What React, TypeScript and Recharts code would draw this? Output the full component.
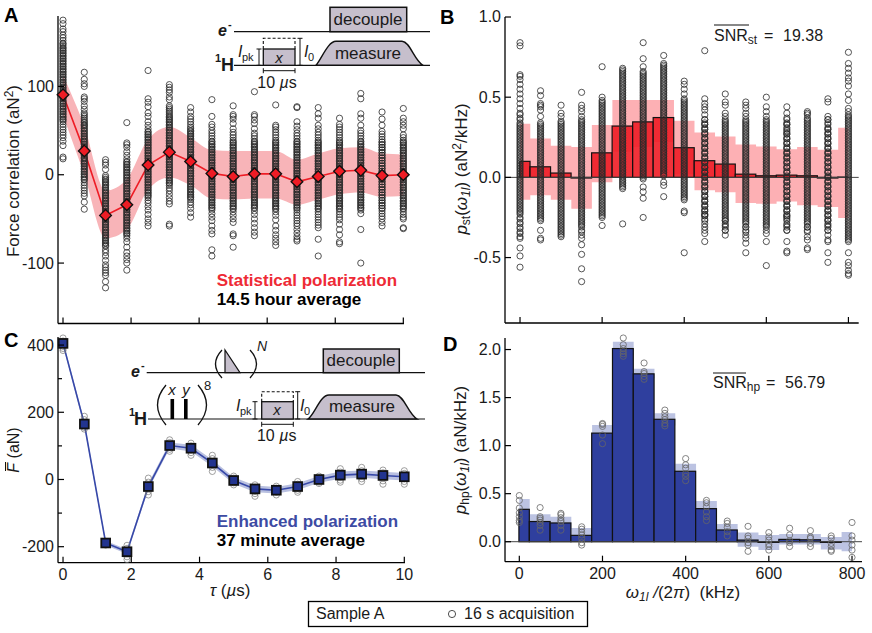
import React from 'react';
import { ComposedChart, XAxis, YAxis, Scatter, Line, Area, Bar, ReferenceLine } from 'recharts';

const FONT = '"Liberation Sans", Arial, sans-serif';
const INK = '#1a1a1a';

// ---------- Panel A ----------
const tau = [0, 0.625, 1.25, 1.875, 2.5, 3.125, 3.75, 4.375, 5, 5.625, 6.25, 6.875, 7.5, 8.125, 8.75, 9.375, 10];
const aMean = [90.5, 27, -46, -34, 11, 25.6, 15, 1.5, -2, 1, 1, -8, -2, 4, 5, -1, 0];
const aUpper = [113, 55, -18, -5, 40, 54, 42, 28, 27, 27, 27, 17, 24, 30, 31, 24, 23];
const aLower = [67, 0, -72, -62, -17, -3, -12, -27, -28, -27, -27, -34, -28, -22, -20, -25, -24];
const aShots = [
  [175,171,165,162,158,155,152,149,146,143,140,137,134,131,128,125,122,119,116,113,110,108,105,102,99,96,93,90,87,84,81,78,75,72,69,66,63,60,57,54,51,48,45,42,38,33,20,18],
  [116,108,103,100,88,86,83,78,74,70,66,62,59,56,53,50,47,44,41,38,35,32,29,26,23,20,18,15,12,9,6,3,0,-3,-6,-9,-12,-15,-18,-21,-24,-31,-39],
  [17,14,11,6,-1,-3,-6,-9,-12,-15,-18,-21,-24,-27,-30,-33,-36,-39,-42,-45,-48,-51,-54,-57,-60,-63,-66,-69,-72,-75,-78,-81,-85,-88,-92,-97,-102,-105,-108,-111,-114,-121,-128],
  [59,36,34,31,26,22,18,15,12,9,6,3,0,-3,-6,-9,-12,-15,-18,-21,-24,-27,-30,-33,-36,-39,-42,-45,-48,-51,-54,-57,-60,-63,-66,-69,-72,-76,-82,-88,-92,-96,-100,-108],
  [118,86,82,77,70,66,60,56,52,49,46,43,40,37,34,31,28,25,22,19,16,13,10,7,4,1,-2,-5,-8,-11,-14,-17,-20,-23,-26,-29,-32,-36,-40,-45,-50,-54,-58],
  [102,99,96,93,88,85,78,74,70,66,63,60,57,54,51,48,45,42,39,36,33,30,27,24,21,18,15,12,9,6,3,0,-3,-6,-9,-12,-15,-18,-22,-26,-30,-33,-56,-58],
  [76,71,66,63,60,57,54,50,47,44,41,38,35,32,29,26,23,20,17,14,11,8,5,2,-1,-4,-7,-10,-13,-16,-19,-22,-25,-28,-31,-34,-38,-43,-48],
  [85,66,57,54,50,47,44,41,38,35,32,29,26,23,20,17,14,11,8,5,2,-1,-4,-7,-10,-13,-16,-19,-22,-25,-28,-31,-34,-37,-40,-44,-48,-52,-58,-63,-67,-85,-92],
  [78,68,66,63,58,52,48,45,42,39,36,33,30,27,24,21,18,15,12,9,6,3,0,-3,-6,-9,-12,-15,-18,-21,-24,-27,-30,-33,-36,-39,-42,-46,-50,-54,-67,-69,-82],
  [94,68,66,62,58,52,47,44,41,38,35,32,29,26,23,20,17,14,11,8,5,2,-1,-4,-7,-10,-13,-16,-19,-22,-25,-28,-31,-34,-37,-41,-45,-50,-55,-60,-65,-69],
  [79,56,54,51,48,45,42,39,36,33,30,27,24,21,18,15,12,9,6,3,0,-3,-6,-9,-12,-15,-18,-21,-24,-27,-30,-33,-36,-39,-42,-46,-51,-58,-63,-68,-72,-76,-80],
  [77,76,60,55,51,47,44,41,38,35,32,29,26,23,20,17,14,11,8,5,2,-1,-4,-7,-10,-13,-16,-19,-22,-25,-28,-31,-34,-37,-40,-43,-46,-49,-52,-55,-58,-62,-66,-70,-73,-75],
  [76,69,64,56,52,48,45,42,39,36,33,30,27,24,21,18,15,12,9,6,3,0,-3,-6,-9,-12,-15,-18,-21,-24,-27,-30,-33,-36,-39,-42,-45,-48,-51,-54,-57,-60,-73,-92],
  [64,57,54,51,48,45,42,39,36,33,30,27,24,21,18,15,12,9,6,3,0,-3,-6,-9,-12,-15,-18,-21,-24,-27,-30,-33,-36,-39,-42,-45,-48,-51,-56,-62,-68,-76,-78],
  [92,86,69,64,56,50,47,44,41,38,35,32,29,26,23,20,17,14,11,8,5,2,-1,-4,-7,-10,-13,-16,-19,-22,-25,-28,-31,-34,-37,-40,-44,-62,-100],
  [71,63,56,49,46,43,40,37,34,31,28,25,22,19,16,13,10,7,4,1,-2,-5,-8,-11,-14,-17,-20,-23,-26,-29,-32,-35,-38,-41,-44,-47,-50,-54,-58],
  [75,64,60,56,52,45,42,39,36,33,30,27,24,21,18,15,12,9,6,3,0,-3,-6,-9,-12,-15,-18,-21,-24,-27,-30,-33,-36,-39,-42,-45,-48,-50,-60,-61],
];
// The black core of each stripe cannot be read shot by shot: estimated densest runs.
const aCoreWide = [37,34,31,28,25,22,19,16,13,10,7,4,1,-2,-5,-8,-11,-14,-17,-20,-23,-26,-29,-32,-35,-38];
const aCore = [
  [148,144,141,138,135,132,129,126,123,120,117,114,111,107,104,101,98,95,92,89,86,83,80,77,74,71,68,65,62],
  [68,64,60,57,55,52,49,46,43,40,37,34,31,28,25,22,19,16,13,10,7,4,1,-2,-5],
  [-5,-8,-11,-14,-17,-20,-23,-26,-29,-32,-35,-38,-41,-44,-47,-50,-53,-56,-59,-62,-65,-68,-71,-74,-77,-80],
  [14,11,8,5,2,-1,-4,-7,-10,-13,-16,-19,-22,-25,-28,-31,-34,-37,-40,-43,-46,-49,-52,-55,-58,-61,-64,-67],
  [48,45,42,39,36,33,30,27,24,21,18,15,12,9,6,3,0,-3,-6,-9,-12,-15,-18,-21,-24],
  [76,72,68,65,62,59,56,53,50,47,44,41,38,35,32,29,26,23,20,17,14,11,8,5,2,-1,-4,-7,-10],
  [52,49,46,43,40,37,34,31,28,25,22,19,16,13,10,7,4,1,-2,-5,-8,-11,-14,-17,-20,-23,-26],
  aCoreWide, aCoreWide, aCoreWide, aCoreWide, aCoreWide, aCoreWide, aCoreWide, aCoreWide, aCoreWide, aCoreWide,
];

// ---------- Panel B (shots in units of 0.01 aN^2/kHz) ----------
const freq = [0, 50, 100, 150, 200, 250, 300, 350, 400, 450, 500, 550, 600, 650, 700, 750, 800];
const bBars = [0.10, 0.066, 0.027, -0.004, 0.153, 0.32, 0.346, 0.373, 0.185, 0.104, 0.083, 0.02, 0.01, 0.014, 0.01, -0.004, 0.002];
const bUpper = [0.334, 0.243, 0.197, 0.19, 0.326, 0.483, 0.483, 0.483, 0.353, 0.28, 0.255, 0.205, 0.193, 0.176, 0.19, 0.172, 0.31];
const bLower = [-0.14, -0.112, -0.14, -0.195, -0.03, 0.16, 0.19, 0.22, 0.02, -0.08, -0.093, -0.16, -0.164, -0.15, -0.174, -0.185, -0.253];
const bShots = [
  [84,82,64,63,61,58,55,52,49,46,43,40,37,34,32,30,28,26,24,22,20,18,16,14,12,10,8,6,4,2,0,-2,-4,-6,-8,-10,-12,-14,-16,-18,-20,-22,-25,-28,-31,-34,-37,-38,-44,-49,-56],
  [54,51,46,45,44,42,38,34,33,31,29,26,23,20,17,14,11,8,5,2,-1,-4,-7,-10,-13,-16,-18,-20,-22,-24,-26,-27,-33,-38,-39],
  [45,40,38,35,34,31,28,25,22,19,16,13,10,7,4,1,-2,-5,-8,-11,-14,-17,-20,-23,-26,-28,-30,-32,-34,-36,-37],
  [53,45,43,41,38,35,32,29,26,23,20,17,14,11,8,5,2,-1,-4,-7,-10,-13,-16,-19,-22,-25,-28,-30,-34,-36,-38,-42,-48,-57,-65],
  [69,50,48,46,44,42,39,36,33,30,27,24,21,18,15,12,9,6,3,0,-3,-6,-9,-12,-15,-18,-21,-24,-25,-30],
  [68,66,64,62,60,58,55,53,50,48,45,43,40,38,35,33,30,28,25,23,20,18,15,13,10,8,5,3,0,-3,-5,-7,-29],
  [84,74,69,66,64,61,58,55,52,49,46,43,40,37,34,31,28,25,22,19,16,13,10,7,4,1,-1,-6,-9,-13,-25],
  [76,71,70,68,65,62,59,56,53,50,47,44,41,38,35,32,29,26,23,20,17,14,11,8,5,2,-3,-5,-12],
  [60,58,55,52,49,46,43,40,37,34,31,28,25,22,19,16,13,10,7,4,1,-2,-5,-8,-11,-14,-22,-21,-47],
  [79,49,46,44,42,39,36,33,30,27,24,21,18,15,12,9,6,3,0,-3,-6,-9,-12,-15,-18,-21,-23,-24,-35,-40],
  [52,47,45,40,38,35,32,29,26,23,20,17,14,11,8,5,2,-1,-4,-7,-10,-13,-16,-19,-22,-25,-27,-30,-33,-36],
  [47,45,43,40,38,35,32,29,26,23,20,17,14,11,8,5,2,-1,-4,-7,-10,-13,-16,-19,-22,-25,-28,-31,-34,-36,-38,-41,-47],
  [50,44,41,38,35,32,29,26,23,20,17,14,11,8,5,2,-1,-4,-7,-10,-13,-16,-19,-22,-25,-28,-30,-35,-40,-55],
  [44,40,37,33,29,27,24,21,18,15,12,9,6,3,0,-3,-6,-9,-12,-15,-18,-21,-24,-25,-30,-33,-40,-47,-46],
  [41,40,39,37,35,32,29,26,23,20,17,14,11,8,5,2,-1,-4,-7,-10,-13,-16,-19,-22,-25,-28,-31,-34,-37,-39,-44,-45],
  [49,47,38,36,30,27,24,21,18,15,12,9,6,3,0,-3,-6,-9,-12,-15,-18,-21,-24,-27,-30,-33,-36,-39,-40,-47,-53],
  [78,71,68,65,62,60,57,52,48,43,41,39,36,33,30,27,24,21,18,15,12,9,6,3,0,-3,-6,-9,-12,-15,-18,-21,-24,-27,-30,-33,-36,-39,-40,-47,-53,-55,-58,-60,-61],
];
const bCoreWide = [36,34,33,31,30,28,27,25,24,22,21,19,18,16,15,13,12,10,9,7,6,4,3,1,0,-2,-3,-5,-6,-8,-9,-11,-12,-14,-15,-17,-18,-20,-21,-23,-24,-26,-27,-29,-31,-33];
const bCoreHigh = [65,63,62,60,59,57,56,54,53,51,50,48,47,45,44,42,41,39,38,36,35,33,32,30,29,27,26,24,23,21,20,18,17,15,14,12,11,9,8,6,5,3,2,0];
const bCore = [
  [39,36,33,31,29,27,25,23,21,19,17,15,13,11,9,7,5,3,1,-1,-3,-5,-7,-9,-11,-13,-15,-17,-19,-21,-23,-26,-29,-32,-35],
  [32,30,28,27,25,24,22,21,19,18,16,15,13,12,10,9,7,6,4,3,1,0,-2,-3,-5,-6,-8,-9,-11,-12,-14,-15,-17,-19,-21,-23,-25],
  [33,32,30,29,27,26,24,23,21,20,18,17,15,14,12,11,9,8,6,5,3,2,0,-1,-3,-4,-6,-7,-9,-10,-12,-13,-15,-16,-18,-19,-21,-22,-24,-25,-27,-29,-31,-33,-35],
  bCoreWide,
  [47,45,43,41,40,38,37,35,34,32,31,29,28,26,25,23,22,20,19,17,16,14,13,11,10,8,7,5,4,2,1,-1,-2,-4,-5,-7,-8,-10,-11,-13,-14,-16,-17,-19,-20,-22,-23],
  [67,65,63,61,59,57,56,54,52,51,49,47,46,44,42,41,39,37,36,34,32,31,29,27,26,24,22,21,19,17,16,14,12,11,9,7,6,4,2,1,-1,-2,-4,-6],
  bCoreHigh,
  [69,67,66,64,63,61,60,58,57,55,54,52,51,49,48,46,45,43,42,40,39,37,36,34,33,31,30,28,27,25,24,22,21,19,18,16,15,13,12,10,9,7,6,4,3,1],
  [48,47,45,44,42,41,39,38,36,35,33,32,30,29,27,26,24,23,21,20,18,17,15,14,12,11,9,8,6,5,3,2,0,-1,-3,-4,-6,-7,-9,-10,-12,-13],
  bCoreWide, bCoreWide, bCoreWide, bCoreWide, bCoreWide, bCoreWide, bCoreWide,
  [38,37,35,34,32,31,29,28,26,25,23,22,20,19,17,16,14,13,11,10,8,7,5,4,2,1,-1,-2,-4,-5,-7,-8,-10,-11,-13,-14,-16,-17,-19,-20,-22,-23,-25,-26,-28,-29,-31,-32,-34,-35,-37,-38],
];

// ---------- Panel C ----------
const cMean = [405, 165, -189, -215, -21, 101, 93, 49, -3, -28, -32, -21, 0, 13, 16, 12, 8];
const cUpper = [412, 173, -182, -208, -12, 110, 103, 59, 7, -18, -22, -11, 10, 24, 27, 23, 19];
const cLower = [398, 157, -196, -222, -30, 92, 83, 39, -13, -38, -42, -31, -10, 2, 5, 1, -3];
const cShots = [
  [421,412,408,402,396,390,384],
  [188,178,170,160,155,150],
  [-184,-187,-190,-192,-195],
  [-196,-205,-214,-222,-230,-238],
  [4,-8,-20,-28,-36,-46],
  [118,110,102,96,90,84],
  [108,100,94,88,80,72],
  [72,62,52,44,36,24],
  [10,4,-4,-10,-16],
  [-16,-24,-30,-36,-42,-50],
  [-20,-26,-32,-38,-46],
  [-6,-14,-20,-26,-32,-38],
  [10,4,-2,-8,-12],
  [32,22,14,6,-2,-8],
  [36,26,18,10,2,-6],
  [28,20,12,4,-4,-14],
  [26,18,10,2,-6,-14],
];

// ---------- Panel D ----------
const dBars = [0.337, 0.21, 0.195, 0.066, 1.13, 2.01, 1.747, 1.274, 0.733, 0.344, 0.122, 0.017, -0.007, 0.024, 0.02, -0.007, 0];
const dUpper = [0.444, 0.285, 0.26, 0.142, 1.215, 2.08, 1.80, 1.337, 0.81, 0.424, 0.184, 0.097, 0.07, 0.08, 0.08, 0.05, 0.1];
const dLower = [0.23, 0.14, 0.13, 0.0, 1.05, 1.94, 1.70, 1.21, 0.66, 0.27, 0.06, -0.052, -0.087, -0.03, -0.03, -0.08, -0.1];
const dShots = [
  [0.48,0.43,0.35,0.30,0.26,0.22,0.20],
  [0.355,0.26,0.243,0.225,0.20,0.17,0.12],
  [0.295,0.28,0.25,0.225,0.21,0.17,0.12],
  [0.155,0.13,0.10,0.07,0.035,-0.01,-0.035],
  [1.23,1.22,1.20,1.11,1.02],
  [2.12,2.05,2.01,1.98,1.955,1.93],
  [1.86,1.77,1.75,1.72,1.69],
  [1.37,1.335,1.30,1.27,1.23,1.205],
  [0.865,0.80,0.765,0.71,0.68,0.635],
  [0.43,0.405,0.365,0.31,0.26,0.22],
  [0.215,0.19,0.15,0.105,0.06],
  [0.16,0.06,0.035,-0.01,-0.035,-0.10],
  [0.095,0.05,0.017,-0.025,-0.05,-0.087],
  [0.14,0.07,0.01,-0.01,-0.05],
  [0.115,0.05,0.035,-0.017,-0.05],
  [0.06,0.035,-0.017,-0.05,-0.087,-0.10],
  [0.20,0.06,0.017,-0.035,-0.087,-0.163],
];

const aTicksY = [-100, 0, 100];
const bTicksY = [-0.5, 0, 0.5, 1];
const cTicksY = [-200, -100, 0, 100, 200, 300, 400];
const cMinorY = [-100, 100, 300];
const dTicksY = [0, 0.5, 1, 1.5, 2];
const tauTicks = [0, 2, 4, 6, 8, 10];
const freqTicks = [0, 200, 400, 600, 800];

const shots = (cols: number[][], xs: number[], k = 1) =>
  cols.flatMap((col, i) => col.map((v) => ({ x: xs[i], y: v * k })));
const table = (xs: number[], mean: number[], lo: number[], hi: number[]) =>
  xs.map((x, i) => ({ x, y: mean[i], band: [lo[i], hi[i]] }));

const aData = table(tau, aMean, aLower, aUpper);
const bData = table(freq, bBars, bLower, bUpper);
const cData = table(tau, cMean, cLower, cUpper);
const dData = table(freq, dBars, dLower, dUpper);
const aCloud = [...shots(aShots, tau), ...shots(aCore, tau)];
const bCloud = [...shots(bShots, freq, 0.01), ...shots(bCore, freq, 0.01)];

const xTick = (labels: boolean) => (p: any) => (
  <g key={p.index}>
    <line x1={p.x} x2={p.x} y1={p.y} y2={p.y - 6} stroke="#000" strokeWidth={1.2} />
    {labels && (
      <text x={p.x} y={p.y + 17} textAnchor="middle" fontSize={16} fontFamily={FONT} fill={INK}>
        {p.payload.value}
      </text>
    )}
  </g>
);
const yTick = (fmt: (v: number) => string, minor: number[] = []) => (p: any) => {
  const isMinor = minor.includes(p.payload.value);
  return (
    <g key={p.index}>
      <line x1={p.x} x2={p.x + (isMinor ? 4 : 6)} y1={p.y} y2={p.y} stroke="#000" strokeWidth={1.2} />
      {!isMinor && (
        <text x={p.x - 4} y={p.y + 5.5} textAnchor="end" fontSize={16} fontFamily={FONT} fill={INK}>
          {fmt(p.payload.value)}
        </text>
      )}
    </g>
  );
};
const ring = (stroke: string, sw: number, r = 3.1) => (p: any) => (
  <circle cx={p.cx} cy={p.cy} r={r} fill="none" stroke={stroke} strokeWidth={sw} />
);
const diamond = (p: any) => (
  <polygon
    key={p.index}
    points={`${p.cx},${p.cy - 5.8} ${p.cx + 5.8},${p.cy} ${p.cx},${p.cy + 5.8} ${p.cx - 5.8},${p.cy}`}
    fill="#ee1c25" stroke="#111" strokeWidth={1.4}
  />
);
const square = (p: any) => (
  <rect key={p.index} x={p.cx - 4.4} y={p.cy - 4.4} width={8.8} height={8.8} fill="#22348f" stroke="#111" strokeWidth={1.8} />
);
// binPx is one 50 kHz bin on the panel's x scale; the outer two bins are half bins.
const histBar = (fill: string, stroke: string, binPx: number, alpha = 1) => (p: any) => {
  let { y, height: h } = p;
  const cx = p.x + p.width / 2;
  const v = p.payload.x;
  if (h < 0) { y += h; h = -h; }
  const x = v === 0 ? cx : cx - binPx / 2;
  const w = v === 0 || v === 800 ? binPx / 2 : binPx;
  return <rect x={x} y={y} width={w} height={h} fill={fill} fillOpacity={alpha} stroke={stroke} strokeWidth={1.2} />;
};

type PanelProps = {
  left: number; top: number; w: number; h: number;
  data: any[]; xDomain: number[]; yDomain: number[];
  xTicks: number[]; yTicks: number[]; labels: boolean;
  fmt: (v: number) => string; minor?: number[];
  children: React.ReactNode;
};
const GUTTER = 50, TOPM = 14, RIGHTM = 30, BOTM = 30;
const Panel = ({ left, top, w, h, data, xDomain, yDomain, xTicks, yTicks, labels, fmt, minor, children }: PanelProps) => (
  <div style={{ position: 'absolute', left: left - GUTTER, top: top - TOPM, width: w + GUTTER + RIGHTM, height: h + BOTM + TOPM }}>
    <ComposedChart width={w + GUTTER + RIGHTM} height={h + BOTM + TOPM} data={data}
      margin={{ left: 0, right: RIGHTM, top: TOPM, bottom: 0 }}>
      <XAxis type="number" dataKey="x" domain={xDomain} ticks={xTicks} interval={0} height={BOTM}
        tickSize={0} tickMargin={0} tickLine={false} axisLine={{ stroke: '#000', strokeWidth: 1.3 }} tick={xTick(labels)} />
      <YAxis type="number" dataKey="y" domain={yDomain} ticks={yTicks} interval={0} width={GUTTER}
        tickSize={0} tickMargin={0} tickLine={false} axisLine={{ stroke: '#000', strokeWidth: 1.3 }} tick={yTick(fmt, minor)} />
      {children}
    </ComposedChart>
  </div>
);

const Txt = ({ x, y, size = 16, weight, italic, fill = INK, anchor, children }: any) => (
  <text x={x} y={y} fontSize={size} fontWeight={weight} fontStyle={italic ? 'italic' : undefined}
    fill={fill} textAnchor={anchor} fontFamily={FONT} style={{ whiteSpace: 'pre' }}>{children}</text>
);
const Sub = ({ children, size = 12, dy = 3, italic }: any) => (
  <tspan fontSize={size} dy={dy} fontStyle={italic ? 'italic' : 'normal'}>{children}</tspan>
);
const VB = ({ x, y1, y2 }: any) => (
  <path d={`M${x - 2.5},${y1}H${x + 2.5}M${x},${y1}V${y2}M${x - 2.5},${y2}H${x + 2.5}`} stroke="#111" strokeWidth={1} fill="none" />
);
const HB = ({ x1, x2, y }: any) => (
  <path d={`M${x1},${y - 2.5}V${y + 2.5}M${x1},${y}H${x2}M${x2},${y - 2.5}V${y + 2.5}`} stroke="#111" strokeWidth={1} fill="none" />
);
const PULSE = '#c6bfcc';

const Overlay = () => (
  <svg width={872} height={633} style={{ position: 'absolute', left: 0, top: 0, pointerEvents: 'none' }}>
    {/* Panel letters */}
    <Txt x={4} y={22} size={20} weight="bold" fill="#000">A</Txt>
    <Txt x={440} y={24} size={20} weight="bold" fill="#000">B</Txt>
    <Txt x={4} y={347} size={20} weight="bold" fill="#000">C</Txt>
    <Txt x={443} y={351} size={20} weight="bold" fill="#000">D</Txt>

    {/* Axis titles */}
    <g transform="translate(19,171) rotate(-90)"><Txt x={0} y={0} size={17} anchor="middle">Force correlation (aN<tspan fontSize={12} dy={-6}>2</tspan><tspan dy={6}>)</tspan></Txt></g>
    <g transform="translate(467,169) rotate(-90)">
      <Txt x={0} y={0} size={17} anchor="middle"><tspan fontStyle="italic">p</tspan><Sub>st</Sub><tspan dy={-3}>(</tspan><tspan fontStyle="italic">ω</tspan><Sub italic>1l</Sub><tspan dy={-3}>) (aN</tspan><tspan fontSize={12} dy={-6}>2</tspan><tspan dy={6}>/kHz)</tspan></Txt>
    </g>
    <g transform="translate(19,450) rotate(-90)">
      <Txt x={0} y={0} anchor="middle"><tspan fontStyle="italic">F</tspan> (aN)</Txt>
      <line x1={-21} x2={-12} y1={-13.5} y2={-13.5} stroke="#111" strokeWidth={1} />
    </g>
    <g transform="translate(466,450) rotate(-90)">
      <Txt x={0} y={0} size={17} anchor="middle"><tspan fontStyle="italic">p</tspan><Sub>hp</Sub><tspan dy={-3}>(</tspan><tspan fontStyle="italic">ω</tspan><Sub italic>1l</Sub><tspan dy={-3}>) (aN/kHz)</tspan></Txt>
    </g>
    <Txt x={230} y={596} size={17} anchor="middle"><tspan fontStyle="italic">τ</tspan> (<tspan fontStyle="italic">µ</tspan>s)</Txt>
    <Txt x={683} y={598} size={17} anchor="middle"><tspan fontStyle="italic">ω</tspan><Sub italic>1l</Sub><tspan dy={-3} fontStyle="italic"> /</tspan>(2<tspan fontStyle="italic">π</tspan>)  (kHz)</Txt>

    {/* Annotations */}
    <Txt x={216.7} y={286} size={17} weight="bold" fill="#ee2a35">Statistical polarization</Txt>
    <Txt x={216.7} y={305} size={17} weight="bold" fill="#000">14.5 hour average</Txt>
    <Txt x={216.7} y={527} size={17} weight="bold" fill="#3d4ba3">Enhanced polarization</Txt>
    <Txt x={216.7} y={546} size={17} weight="bold" fill="#000">37 minute average</Txt>

    <line x1={714} x2={749} y1={25} y2={25} stroke="#111" strokeWidth={1} />
    <Txt x={714} y={41}>SNR<Sub>st</Sub></Txt>
    <Txt x={764} y={41}>=</Txt>
    <Txt x={783} y={41}>19.38</Txt>
    <line x1={713} x2={746} y1={373} y2={373} stroke="#111" strokeWidth={1} />
    <Txt x={713} y={388}>SNR<Sub>hp</Sub></Txt>
    <Txt x={766} y={388}>=</Txt>
    <Txt x={785} y={388}>56.79</Txt>

    {/* Pulse sequence, panel A */}
    <path d="M234,31.7H430M234,65.3H430" stroke="#111" strokeWidth={1.2} />
    <rect x={330} y={7.3} width={76.7} height={24.4} fill={PULSE} stroke="#111" strokeWidth={1.5} />
    <Txt x={368} y={25} size={17} anchor="middle">decouple</Txt>
    <Txt x={218} y={36} size={16} weight="bold" italic>e</Txt>
    <Txt x={228} y={28} size={11} weight="bold">-</Txt>
    <Txt x={215} y={62} size={11} weight="bold">1</Txt>
    <Txt x={221} y={71} size={18} weight="bold">H</Txt>
    <rect x={263.3} y={49} width={31.7} height={16.3} fill={PULSE} stroke="#111" strokeWidth={1.3} />
    <path d="M263.3,49V38.3H295V49" fill="none" stroke="#111" strokeWidth={1.1} strokeDasharray="3 2" />
    <Txt x={279} y={63} size={15} italic anchor="middle">x</Txt>
    <Txt x={238} y={57} size={16} italic>I</Txt><Txt x={242} y={61} size={11}>pk</Txt>
    <VB x={259} y1={49} y2={65.3} />
    <VB x={300} y1={38.3} y2={65.3} />
    <Txt x={304} y={57} size={16} italic>I</Txt><Txt x={308} y={61} size={11}>0</Txt>
    <HB x1={263.3} x2={295} y={70.7} />
    <Txt x={277} y={88} anchor="middle">10 <tspan fontStyle="italic">µ</tspan>s</Txt>
    <path d="M316,65.3C322,58 328,41.3 336,41.3H402C410,41.3 414,60 423,65.3Z" fill={PULSE} stroke="#111" strokeWidth={1.4} />
    <Txt x={368} y={59} size={17} anchor="middle">measure</Txt>

    {/* Pulse sequence, panel C */}
    <path d="M146.7,372.7H425M148,419H425" stroke="#111" strokeWidth={1.2} />
    <rect x={323.3} y={349} width={76} height={23.7} fill={PULSE} stroke="#111" strokeWidth={1.5} />
    <Txt x={361} y={366} size={17} anchor="middle">decouple</Txt>
    <Txt x={131} y={377} size={16} weight="bold" italic>e</Txt>
    <Txt x={141} y={369} size={11} weight="bold">-</Txt>
    <Txt x={129} y={416} size={11} weight="bold">1</Txt>
    <Txt x={134} y={425} size={18} weight="bold">H</Txt>
    <path d="M225,372.7V350L240,372.7Z" fill={PULSE} stroke="#111" strokeWidth={1.2} />
    <path d="M222,350Q209,364 222,378" fill="none" stroke="#111" strokeWidth={1.3} />
    <path d="M250,350Q263,364 250,378" fill="none" stroke="#111" strokeWidth={1.3} />
    <Txt x={257} y={351} size={14} italic>N</Txt>
    <path d="M166,385Q149,405 166,425" fill="none" stroke="#111" strokeWidth={1.3} />
    <path d="M198,385Q215,405 198,425" fill="none" stroke="#111" strokeWidth={1.3} />
    <Txt x={172} y={395} size={15} italic anchor="middle">x</Txt>
    <Txt x={186} y={395} size={15} italic anchor="middle">y</Txt>
    <Txt x={204} y={390} size={13}>8</Txt>
    <rect x={170.5} y={399} width={3.6} height={20} fill="#000" />
    <rect x={184} y={399} width={3.6} height={20} fill="#000" />
    <rect x={261.7} y={401.7} width={31.6} height={17.3} fill={PULSE} stroke="#111" strokeWidth={1.3} />
    <path d="M261.7,401.7V391.7H293.3V401.7" fill="none" stroke="#111" strokeWidth={1.1} strokeDasharray="3 2" />
    <Txt x={277} y={415} size={15} italic anchor="middle">x</Txt>
    <Txt x={236} y={411} size={16} italic>I</Txt><Txt x={240} y={415} size={11}>pk</Txt>
    <VB x={255} y1={401.7} y2={419} />
    <VB x={297.7} y1={391.7} y2={419} />
    <Txt x={300} y={411} size={16} italic>I</Txt><Txt x={304} y={415} size={11}>0</Txt>
    <HB x1={261.7} x2={293.3} y={424.3} />
    <Txt x={276.7} y={441} anchor="middle">10 <tspan fontStyle="italic">µ</tspan>s</Txt>
    <path d="M308,419C315,414 320,395 329,395H396C404,395 408,414 417,419Z" fill={PULSE} stroke="#111" strokeWidth={1.4} />
    <Txt x={362} y={412} size={17} anchor="middle">measure</Txt>

    {/* Key */}
    <rect x={308.5} y={601.5} width={279} height={25} fill="#fff" stroke="#000" strokeWidth={1.3} />
    <Txt x={316} y={619}>Sample A</Txt>
    <circle cx={452} cy={614} r={3.6} fill="none" stroke="#222" strokeWidth={0.8} />
    <Txt x={464} y={619}>16 s acquisition</Txt>
  </svg>
);

export default function App() {
  return (
    <div style={{ position: 'absolute', left: 0, top: 0, width: 872, height: 633, background: '#fff', overflow: 'hidden' }}>
      <Panel left={57.5} top={16} w={346} h={307.5} data={aData} xDomain={[-0.147, 10.02]} yDomain={[-168.4, 179.7]}
        xTicks={tauTicks} yTicks={aTicksY} labels={false} fmt={(v) => String(v)}>
        <Area dataKey="band" type="monotone" stroke="none" fill="#f8b4b8" fillOpacity={1} isAnimationActive={false} />
        <Scatter data={aCloud} dataKey="y" shape={ring('#2a2a2a', 0.8)} isAnimationActive={false} />
        <Line dataKey="y" type="linear" stroke="#ee1c25" strokeWidth={1.6} dot={diamond} activeDot={false} isAnimationActive={false} />
      </Panel>

      <Panel left={505} top={17.3} w={353.7} h={306} data={bData} xDomain={[-36.6, 825]} yDomain={[-0.908, 1]}
        xTicks={freqTicks} yTicks={bTicksY} labels={false} fmt={(v) => v.toFixed(1)}>
        <Area dataKey="band" type="step" stroke="none" fill="#fdb0b4" fillOpacity={1} isAnimationActive={false} />
        <Scatter data={bCloud} dataKey="y" shape={ring('#2a2a2a', 0.8)} isAnimationActive={false} />
        <Bar dataKey="y" barSize={20} shape={histBar('#ee1c25', '#111', 20.53, 0.9)} isAnimationActive={false} />
        <ReferenceLine y={0} stroke="#444" strokeWidth={1} />
      </Panel>

      <Panel left={57.5} top={337} w={347} h={225.7} data={cData} xDomain={[-0.147, 10.02]} yDomain={[-247.6, 424]}
        xTicks={tauTicks} yTicks={cTicksY} minor={cMinorY} labels={true} fmt={(v) => String(v)}>
        <Area dataKey="band" type="linear" stroke="none" fill="#b9c0e0" fillOpacity={1} isAnimationActive={false} />
        <Scatter data={shots(cShots, tau)} dataKey="y" shape={ring('#777', 0.7)} isAnimationActive={false} />
        <Line dataKey="y" type="linear" stroke="#3748a8" strokeWidth={1.6} dot={square} activeDot={false} isAnimationActive={false} />
      </Panel>

      <Panel left={505} top={338} w={357} h={223.7} data={dData} xDomain={[-34.4, 824]} yDomain={[-0.208, 2.12]}
        xTicks={freqTicks} yTicks={dTicksY} labels={true} fmt={(v) => v.toFixed(1)}>
        <Area dataKey="band" type="step" stroke="none" fill="#bcc3e2" fillOpacity={1} isAnimationActive={false} />
        <Bar dataKey="y" barSize={20} shape={histBar('#2f3f9e', '#111', 20.8)} isAnimationActive={false} />
        <Scatter data={shots(dShots, freq)} dataKey="y" zIndex={2000} shape={ring('#666', 0.8)} isAnimationActive={false} />
        <ReferenceLine y={0} stroke="#444" strokeWidth={1} />
      </Panel>

      <Overlay />
    </div>
  );
}
